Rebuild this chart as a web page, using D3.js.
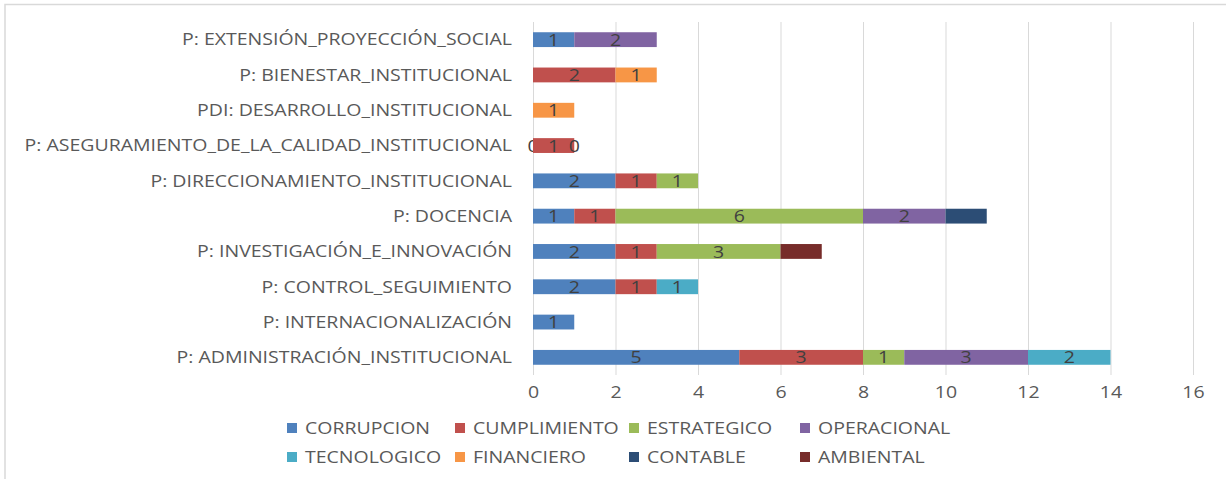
<!DOCTYPE html>
<html><head><meta charset="utf-8">
<script src="https://cdn.jsdelivr.net/npm/d3@7"></script>
<style>
html,body{margin:0;padding:0;background:#fff;}
svg text{font-family:"Open Sans",sans-serif;}
</style></head>
<body><svg id="c" width="1226" height="479"></svg>
<script>
const categories = [
  "P: EXTENSIÓN_PROYECCIÓN_SOCIAL",
  "P: BIENESTAR_INSTITUCIONAL",
  "PDI: DESARROLLO_INSTITUCIONAL",
  "P: ASEGURAMIENTO_DE_LA_CALIDAD_INSTITUCIONAL",
  "P: DIRECCIONAMIENTO_INSTITUCIONAL",
  "P: DOCENCIA",
  "P: INVESTIGACIÓN_E_INNOVACIÓN",
  "P: CONTROL_SEGUIMIENTO",
  "P: INTERNACIONALIZACIÓN",
  "P: ADMINISTRACIÓN_INSTITUCIONAL"
];
const seriesNames = ["CORRUPCION","CUMPLIMIENTO","ESTRATEGICO","OPERACIONAL","TECNOLOGICO","FINANCIERO","CONTABLE","AMBIENTAL"];
const corrupcion   = [1, null, null, 0, 2, 1, 2, 2, 1, 5];
const cumplimiento = [null, 2, null, 1, 1, 1, 1, 1, null, 3];
const estrategico  = [null, null, null, 0, 1, 6, 3, null, null, 1];
const operacional  = [2, null, null, null, null, 2, null, null, null, 3];
const tecnologico  = [null, null, null, null, null, null, null, 1, null, 2];
const financiero   = [null, 1, 1, null, null, null, null, null, null, null];
const contable     = [null, null, null, null, null, 1, null, null, null, null];
const ambiental    = [null, null, null, null, null, null, 1, null, null, null];
const xTicks = [0, 2, 4, 6, 8, 10, 12, 14, 16];

const seriesValues = [corrupcion, cumplimiento, estrategico, operacional, tecnologico, financiero, contable, ambiental];
const colors = ["#4F81BD","#C0504D","#9BBB59","#8064A2","#4BACC6","#F79646","#2C4D75","#772C2A"];
const showLabel = [true,true,true,true,true,true,false,false];

const svg = d3.select("#c");
const SX = 1.22; // horizontal stretch of text
const FS = "16px";

// frame
svg.append("rect").attr("x",5).attr("y",4.5).attr("width",1240).attr("height",490)
  .attr("fill","none").attr("stroke","#d9d9d9").attr("stroke-width",1.5);

const x = d3.scaleLinear().domain([0,16]).range([533,1193]);
const y = d3.scaleBand().domain(categories).range([22,375]).paddingInner(0.58).paddingOuter(0.29);

// gridlines
svg.append("g").selectAll("line").data(xTicks).join("line")
  .attr("x1",d=>x(d)+0.5).attr("x2",d=>x(d)+0.5).attr("y1",22).attr("y2",375)
  .attr("stroke","#d9d9d9").attr("stroke-width",1);

// x axis labels
const xAxis = d3.axisBottom(x).tickValues(xTicks).tickSize(0).tickPadding(0);
const gx = svg.append("g").attr("transform","translate(0,387)").call(xAxis);
gx.select(".domain").remove();
gx.selectAll(".tick text").attr("fill","#595959").style("font-size",FS)
  .attr("transform",`scale(${SX},1)`);

// y axis labels
const yAxis = d3.axisLeft(y).tickSize(0).tickPadding(0);
const gy = svg.append("g").attr("transform","translate(512,0)").call(yAxis);
gy.select(".domain").remove();
gy.selectAll(".tick text").attr("fill","#595959").style("font-size",FS)
  .attr("dy","0.36em").attr("transform",`scale(${SX},1)`);

// stacks
const data = categories.map((c,i)=>{
  const o = {cat:c};
  seriesNames.forEach((s,j)=>{ o[s] = seriesValues[j][i] || 0; o[s+"_present"] = seriesValues[j][i] !== null; });
  return o;
});
const stack = d3.stack().keys(seriesNames)(data);
stack.forEach((layer,j)=>{
  const g = svg.append("g");
  g.selectAll("rect").data(layer.filter(d=>d.data[seriesNames[j]]>0)).join("rect")
    .attr("x",d=>x(d[0])).attr("width",d=>x(d[1])-x(d[0]))
    .attr("y",d=>y(d.data.cat)).attr("height",y.bandwidth())
    .attr("fill",colors[j]);
  if (showLabel[j]) {
    g.selectAll("text").data(layer.filter(d=>d.data[seriesNames[j]+"_present"])).join("text")
      .attr("x",d=>(x(d[0])+x(d[1]))/2/SX).attr("y",d=>y(d.data.cat)+y.bandwidth()/2)
      .attr("transform",`scale(${SX},1)`)
      .attr("dy","0.38em").attr("text-anchor","middle")
      .attr("fill","#404040").style("font-size",FS)
      .text(d=>d.data[seriesNames[j]]);
  }
});

// legend
const legX = [287,455,629,800];
const legY = [428,457];
const leg = svg.append("g");
seriesNames.forEach((s,i)=>{
  const lx = legX[i%4], ly = legY[Math.floor(i/4)];
  leg.append("rect").attr("x",lx).attr("y",ly-5).attr("width",10).attr("height",10).attr("fill",colors[i]);
  leg.append("text").attr("x",(lx+18)/SX).attr("y",ly).attr("dy","0.36em")
    .attr("transform",`scale(${SX},1)`).attr("fill","#595959").style("font-size",FS).text(s);
});
</script></body></html>
